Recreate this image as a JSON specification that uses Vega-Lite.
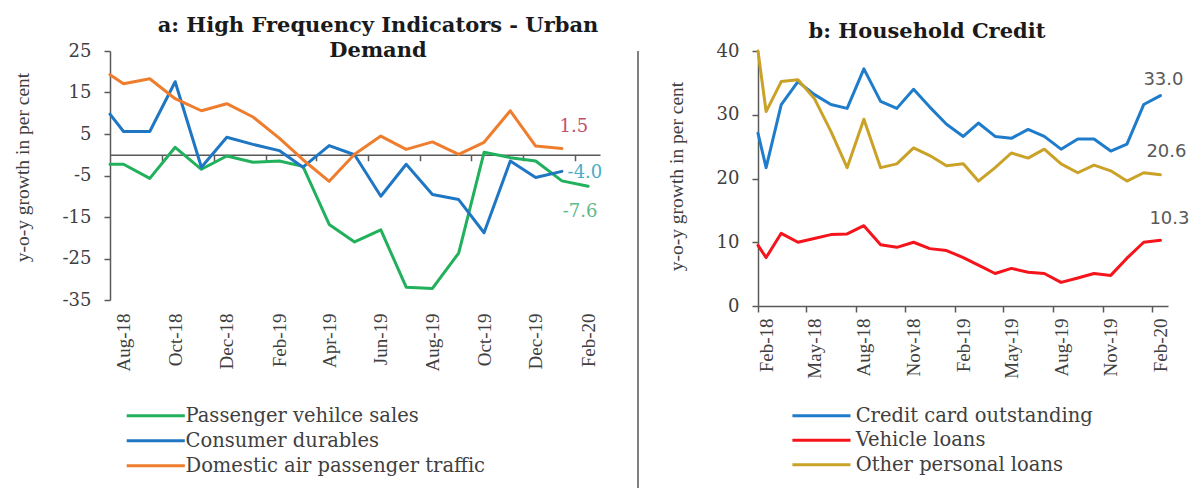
{
  "$schema": "https://vega.github.io/schema/vega-lite/v6.json",
  "background": "white",
  "autosize": {"type": "none"},
  "padding": {"left": 110, "top": 51, "right": 1091, "bottom": 437},
  "bounds": "flush",
  "spacing": 38,
  "config": {
    "view": {"stroke": null},
    "font": "DejaVu Serif",
    "axis": {"grid": false}
  },
  "resolve": {"scale": {"color": "independent"}, "legend": {"color": "independent"}},
  "datasets": {
    "urban": [
      {"date": "2018-07-16", "series": "Passenger vehilce sales", "value": -2.3},
      {"date": "2018-08-01", "series": "Passenger vehilce sales", "value": -2.3},
      {"date": "2018-09-01", "series": "Passenger vehilce sales", "value": -5.7},
      {"date": "2018-10-01", "series": "Passenger vehilce sales", "value": 1.8},
      {"date": "2018-11-01", "series": "Passenger vehilce sales", "value": -3.5},
      {"date": "2018-12-01", "series": "Passenger vehilce sales", "value": -0.3},
      {"date": "2019-01-01", "series": "Passenger vehilce sales", "value": -1.8},
      {"date": "2019-02-01", "series": "Passenger vehilce sales", "value": -1.5},
      {"date": "2019-03-01", "series": "Passenger vehilce sales", "value": -2.8},
      {"date": "2019-04-01", "series": "Passenger vehilce sales", "value": -16.8},
      {"date": "2019-05-01", "series": "Passenger vehilce sales", "value": -21.0},
      {"date": "2019-06-01", "series": "Passenger vehilce sales", "value": -18.1},
      {"date": "2019-07-01", "series": "Passenger vehilce sales", "value": -31.9},
      {"date": "2019-08-01", "series": "Passenger vehilce sales", "value": -32.2},
      {"date": "2019-09-01", "series": "Passenger vehilce sales", "value": -23.7},
      {"date": "2019-10-01", "series": "Passenger vehilce sales", "value": 0.6},
      {"date": "2019-11-01", "series": "Passenger vehilce sales", "value": -0.7},
      {"date": "2019-12-01", "series": "Passenger vehilce sales", "value": -1.5},
      {"date": "2020-01-01", "series": "Passenger vehilce sales", "value": -6.3},
      {"date": "2020-02-01", "series": "Passenger vehilce sales", "value": -7.6},
      {"date": "2018-07-16", "series": "Consumer durables", "value": 9.8},
      {"date": "2018-08-01", "series": "Consumer durables", "value": 5.6},
      {"date": "2018-09-01", "series": "Consumer durables", "value": 5.6},
      {"date": "2018-10-01", "series": "Consumer durables", "value": 17.6},
      {"date": "2018-11-01", "series": "Consumer durables", "value": -3.0},
      {"date": "2018-12-01", "series": "Consumer durables", "value": 4.2},
      {"date": "2019-01-01", "series": "Consumer durables", "value": 2.5},
      {"date": "2019-02-01", "series": "Consumer durables", "value": 1.0},
      {"date": "2019-03-01", "series": "Consumer durables", "value": -3.0},
      {"date": "2019-04-01", "series": "Consumer durables", "value": 2.2},
      {"date": "2019-05-01", "series": "Consumer durables", "value": 0.0},
      {"date": "2019-06-01", "series": "Consumer durables", "value": -10.0},
      {"date": "2019-07-01", "series": "Consumer durables", "value": -2.3},
      {"date": "2019-08-01", "series": "Consumer durables", "value": -9.6},
      {"date": "2019-09-01", "series": "Consumer durables", "value": -10.8},
      {"date": "2019-10-01", "series": "Consumer durables", "value": -18.8},
      {"date": "2019-11-01", "series": "Consumer durables", "value": -1.5},
      {"date": "2019-12-01", "series": "Consumer durables", "value": -5.5},
      {"date": "2020-01-01", "series": "Consumer durables", "value": -4.0},
      {"date": "2018-07-16", "series": "Domestic air passenger traffic", "value": 19.3},
      {"date": "2018-08-01", "series": "Domestic air passenger traffic", "value": 17.1},
      {"date": "2018-09-01", "series": "Domestic air passenger traffic", "value": 18.3},
      {"date": "2018-10-01", "series": "Domestic air passenger traffic", "value": 13.5},
      {"date": "2018-11-01", "series": "Domestic air passenger traffic", "value": 10.6},
      {"date": "2018-12-01", "series": "Domestic air passenger traffic", "value": 12.3},
      {"date": "2019-01-01", "series": "Domestic air passenger traffic", "value": 9.1},
      {"date": "2019-02-01", "series": "Domestic air passenger traffic", "value": 4.0},
      {"date": "2019-03-01", "series": "Domestic air passenger traffic", "value": -1.2},
      {"date": "2019-04-01", "series": "Domestic air passenger traffic", "value": -6.4},
      {"date": "2019-05-01", "series": "Domestic air passenger traffic", "value": 0.1},
      {"date": "2019-06-01", "series": "Domestic air passenger traffic", "value": 4.5},
      {"date": "2019-07-01", "series": "Domestic air passenger traffic", "value": 1.3},
      {"date": "2019-08-01", "series": "Domestic air passenger traffic", "value": 3.1},
      {"date": "2019-09-01", "series": "Domestic air passenger traffic", "value": 0.1},
      {"date": "2019-10-01", "series": "Domestic air passenger traffic", "value": 3.0},
      {"date": "2019-11-01", "series": "Domestic air passenger traffic", "value": 10.6},
      {"date": "2019-12-01", "series": "Domestic air passenger traffic", "value": 2.1},
      {"date": "2020-01-01", "series": "Domestic air passenger traffic", "value": 1.5}
    ],
    "urbanLabels": [
      {"date": "2020-01-01", "series": "Domestic air passenger traffic", "value": 1.5, "label": "1.5"},
      {"date": "2020-01-01", "series": "Consumer durables", "value": -4.0, "label": "-4.0"},
      {"date": "2020-02-01", "series": "Passenger vehilce sales", "value": -7.6, "label": "-7.6"}
    ],
    "credit": [
      {"date": "2018-01-17", "series": "Credit card outstanding", "value": 27.1},
      {"date": "2018-02-01", "series": "Credit card outstanding", "value": 21.7},
      {"date": "2018-03-01", "series": "Credit card outstanding", "value": 31.6},
      {"date": "2018-04-01", "series": "Credit card outstanding", "value": 35.2},
      {"date": "2018-05-01", "series": "Credit card outstanding", "value": 33.2},
      {"date": "2018-06-01", "series": "Credit card outstanding", "value": 31.6},
      {"date": "2018-07-01", "series": "Credit card outstanding", "value": 31.0},
      {"date": "2018-08-01", "series": "Credit card outstanding", "value": 37.2},
      {"date": "2018-09-01", "series": "Credit card outstanding", "value": 32.1},
      {"date": "2018-10-01", "series": "Credit card outstanding", "value": 31.0},
      {"date": "2018-11-01", "series": "Credit card outstanding", "value": 34.0},
      {"date": "2018-12-01", "series": "Credit card outstanding", "value": 31.2},
      {"date": "2019-01-01", "series": "Credit card outstanding", "value": 28.5},
      {"date": "2019-02-01", "series": "Credit card outstanding", "value": 26.6},
      {"date": "2019-03-01", "series": "Credit card outstanding", "value": 28.7},
      {"date": "2019-04-01", "series": "Credit card outstanding", "value": 26.6},
      {"date": "2019-05-01", "series": "Credit card outstanding", "value": 26.3},
      {"date": "2019-06-01", "series": "Credit card outstanding", "value": 27.7},
      {"date": "2019-07-01", "series": "Credit card outstanding", "value": 26.6},
      {"date": "2019-08-01", "series": "Credit card outstanding", "value": 24.6},
      {"date": "2019-09-01", "series": "Credit card outstanding", "value": 26.2},
      {"date": "2019-10-01", "series": "Credit card outstanding", "value": 26.2},
      {"date": "2019-11-01", "series": "Credit card outstanding", "value": 24.3},
      {"date": "2019-12-01", "series": "Credit card outstanding", "value": 25.4},
      {"date": "2020-01-01", "series": "Credit card outstanding", "value": 31.6},
      {"date": "2020-02-01", "series": "Credit card outstanding", "value": 33.0},
      {"date": "2018-01-17", "series": "Vehicle loans", "value": 9.5},
      {"date": "2018-02-01", "series": "Vehicle loans", "value": 7.6},
      {"date": "2018-03-01", "series": "Vehicle loans", "value": 11.4},
      {"date": "2018-04-01", "series": "Vehicle loans", "value": 10.0},
      {"date": "2018-05-01", "series": "Vehicle loans", "value": 10.6},
      {"date": "2018-06-01", "series": "Vehicle loans", "value": 11.2},
      {"date": "2018-07-01", "series": "Vehicle loans", "value": 11.3},
      {"date": "2018-08-01", "series": "Vehicle loans", "value": 12.6},
      {"date": "2018-09-01", "series": "Vehicle loans", "value": 9.6},
      {"date": "2018-10-01", "series": "Vehicle loans", "value": 9.2},
      {"date": "2018-11-01", "series": "Vehicle loans", "value": 10.0},
      {"date": "2018-12-01", "series": "Vehicle loans", "value": 9.0},
      {"date": "2019-01-01", "series": "Vehicle loans", "value": 8.7},
      {"date": "2019-02-01", "series": "Vehicle loans", "value": 7.6},
      {"date": "2019-03-01", "series": "Vehicle loans", "value": 6.4},
      {"date": "2019-04-01", "series": "Vehicle loans", "value": 5.1},
      {"date": "2019-05-01", "series": "Vehicle loans", "value": 5.9},
      {"date": "2019-06-01", "series": "Vehicle loans", "value": 5.3},
      {"date": "2019-07-01", "series": "Vehicle loans", "value": 5.1},
      {"date": "2019-08-01", "series": "Vehicle loans", "value": 3.7},
      {"date": "2019-09-01", "series": "Vehicle loans", "value": 4.4},
      {"date": "2019-10-01", "series": "Vehicle loans", "value": 5.1},
      {"date": "2019-11-01", "series": "Vehicle loans", "value": 4.8},
      {"date": "2019-12-01", "series": "Vehicle loans", "value": 7.5},
      {"date": "2020-01-01", "series": "Vehicle loans", "value": 10.0},
      {"date": "2020-02-01", "series": "Vehicle loans", "value": 10.3},
      {"date": "2018-01-17", "series": "Other personal loans", "value": 40.0},
      {"date": "2018-02-01", "series": "Other personal loans", "value": 30.5},
      {"date": "2018-03-01", "series": "Other personal loans", "value": 35.2},
      {"date": "2018-04-01", "series": "Other personal loans", "value": 35.5},
      {"date": "2018-05-01", "series": "Other personal loans", "value": 32.6},
      {"date": "2018-06-01", "series": "Other personal loans", "value": 27.4},
      {"date": "2018-07-01", "series": "Other personal loans", "value": 21.7},
      {"date": "2018-08-01", "series": "Other personal loans", "value": 29.3},
      {"date": "2018-09-01", "series": "Other personal loans", "value": 21.7},
      {"date": "2018-10-01", "series": "Other personal loans", "value": 22.3},
      {"date": "2018-11-01", "series": "Other personal loans", "value": 24.8},
      {"date": "2018-12-01", "series": "Other personal loans", "value": 23.6},
      {"date": "2019-01-01", "series": "Other personal loans", "value": 22.0},
      {"date": "2019-02-01", "series": "Other personal loans", "value": 22.3},
      {"date": "2019-03-01", "series": "Other personal loans", "value": 19.6},
      {"date": "2019-04-01", "series": "Other personal loans", "value": 21.7},
      {"date": "2019-05-01", "series": "Other personal loans", "value": 24.0},
      {"date": "2019-06-01", "series": "Other personal loans", "value": 23.2},
      {"date": "2019-07-01", "series": "Other personal loans", "value": 24.6},
      {"date": "2019-08-01", "series": "Other personal loans", "value": 22.3},
      {"date": "2019-09-01", "series": "Other personal loans", "value": 20.9},
      {"date": "2019-10-01", "series": "Other personal loans", "value": 22.1},
      {"date": "2019-11-01", "series": "Other personal loans", "value": 21.2},
      {"date": "2019-12-01", "series": "Other personal loans", "value": 19.6},
      {"date": "2020-01-01", "series": "Other personal loans", "value": 20.9},
      {"date": "2020-02-01", "series": "Other personal loans", "value": 20.6}
    ],
    "creditLabels": [
      {"date": "2020-02-01", "series": "Credit card outstanding", "value": 33.0, "label": "33.0"},
      {"date": "2020-02-01", "series": "Other personal loans", "value": 20.6, "label": "20.6"},
      {"date": "2020-02-01", "series": "Vehicle loans", "value": 10.3, "label": "10.3"}
    ],
    "separator": [{"pos": 0}]
  },
  "hconcat": [
    {
      "width": 490,
      "height": 249,
      "title": {
        "text": ["a: High Frequency Indicators - Urban", "Demand"],
        "font": "DejaVu Serif",
        "fontSize": 21,
        "fontWeight": "bold",
        "color": "#1a1a1a",
        "anchor": "middle",
        "frame": "group",
        "dx": 23,
        "dy": 23,
        "offset": 4,
        "lineHeight": 25
      },
      "layer": [
        {
          "data": {"name": "urban"},
          "mark": {"type": "line", "strokeWidth": 3, "strokeJoin": "round", "strokeCap": "round"},
          "encoding": {
            "x": {
              "field": "date", "type": "temporal",
              "scale": {"type": "utc", "domain": [{"year": 2018, "month": 7, "date": 16, "utc": true}, {"year": 2020, "month": 2, "date": 15, "utc": true}]},
              "axis": {
                "orient": "bottom",
                "values": [
                  {"year": 2018, "month": 8, "date": 1, "utc": true},
                  {"year": 2018, "month": 10, "date": 1, "utc": true},
                  {"year": 2018, "month": 12, "date": 1, "utc": true},
                  {"year": 2019, "month": 2, "date": 1, "utc": true},
                  {"year": 2019, "month": 4, "date": 1, "utc": true},
                  {"year": 2019, "month": 6, "date": 1, "utc": true},
                  {"year": 2019, "month": 8, "date": 1, "utc": true},
                  {"year": 2019, "month": 10, "date": 1, "utc": true},
                  {"year": 2019, "month": 12, "date": 1, "utc": true},
                  {"year": 2020, "month": 2, "date": 1, "utc": true}
                ],
                "labelExpr": "utcFormat(datum.value, '%b-%y')",
                "labelAngle": -90, "labelFont": "Liberation Serif", "labelFontSize": 19, "labelColor": "#404040",
                "labelPadding": 13, "ticks": false, "tickSize": 0, "domain": false,
                "labelOverlap": false, "labelFlush": false, "labelBound": false, "title": null
              }
            },
            "y": {
              "field": "value", "type": "quantitative",
              "scale": {"domain": [-35, 25], "nice": false, "zero": false},
              "axis": {
                "values": [-35, -25, -15, -5, 5, 15, 25],
                "labelExpr": "'' + datum.value",
                "domainColor": "#595959", "domainWidth": 1.5,
                "tickColor": "#595959", "tickSize": 6, "tickWidth": 1.5,
                "labelFont": "DejaVu Serif", "labelFontSize": 18, "labelColor": "#404040", "labelPadding": 13,
                "labelFlush": false,
                "title": "y-o-y growth in per cent",
                "titleFont": "Liberation Serif", "titleFontSize": 19.5, "titleFontWeight": "normal", "titleColor": "#404040",
                "titleX": -78, "titleY": 116
              }
            },
            "color": {
              "field": "series", "type": "nominal",
              "scale": {
                "domain": ["Passenger vehilce sales", "Consumer durables", "Domestic air passenger traffic"],
                "range": ["#21B05C", "#1F77C4", "#EE7D2E"]
              },
              "legend": {
                "orient": "none", "legendX": 36, "legendY": 355, "title": null,
                "symbolType": "M-5,0H5", "symbolSize": 135, "symbolStrokeWidth": 3,
                "labelFont": "DejaVu Serif", "labelFontSize": 19.5, "labelColor": "#404040",
                "labelOffset": 20, "rowPadding": 4, "padding": 0, "labelLimit": 400
              }
            }
          }
        },
        {
          "data": {"name": "urbanLabels"},
          "transform": [{"filter": "datum.label == '1.5'"}],
          "mark": {"type": "text", "font": "DejaVu Serif", "fontSize": 18, "color": "#C0506D", "dx": 12, "dy": -21.5, "align": "center", "baseline": "middle"},
          "encoding": {
            "x": {
              "field": "date", "type": "temporal",
              "axis": {
                "orient": "bottom",
                "offset": -145.25,
                "values": [
                  {"year": 2018, "month": 10, "date": 1, "utc": true},
                  {"year": 2018, "month": 12, "date": 1, "utc": true},
                  {"year": 2019, "month": 2, "date": 1, "utc": true},
                  {"year": 2019, "month": 4, "date": 1, "utc": true},
                  {"year": 2019, "month": 6, "date": 1, "utc": true},
                  {"year": 2019, "month": 8, "date": 1, "utc": true},
                  {"year": 2019, "month": 10, "date": 1, "utc": true},
                  {"year": 2019, "month": 12, "date": 1, "utc": true},
                  {"year": 2020, "month": 2, "date": 1, "utc": true}
                ],
                "tickOffset": -12.9,
                "labels": false, "ticks": true, "tickSize": 6, "tickColor": "#595959", "tickWidth": 1.5,
                "domain": true, "domainColor": "#595959", "domainWidth": 1.5, "title": null
              }
            },
            "y": {"field": "value", "type": "quantitative"},
            "text": {"field": "label"}
          }
        },
        {
          "data": {"name": "urbanLabels"},
          "transform": [{"filter": "datum.label == '-4.0'"}],
          "mark": {"type": "text", "font": "DejaVu Serif", "fontSize": 18, "color": "#4BACC6", "dx": 23, "dy": 2, "align": "center", "baseline": "middle"},
          "encoding": {
            "x": {"field": "date", "type": "temporal", "axis": null},
            "y": {"field": "value", "type": "quantitative"},
            "text": {"field": "label"}
          }
        },
        {
          "data": {"name": "urbanLabels"},
          "transform": [{"filter": "datum.label == '-7.6'"}],
          "mark": {"type": "text", "font": "DejaVu Serif", "fontSize": 18, "color": "#5DB88A", "dx": -8, "dy": 26, "align": "center", "baseline": "middle"},
          "encoding": {
            "x": {"field": "date", "type": "temporal", "axis": null},
            "y": {"field": "value", "type": "quantitative"},
            "text": {"field": "label"}
          }
        }
      ],
      "resolve": {"axis": {"x": "independent"}}
    },
    {
      "width": 82,
      "height": 437,
      "data": {"name": "separator"},
      "mark": {"type": "rule", "color": "#7F7F7F", "strokeWidth": 2},
      "encoding": {
        "x": {"field": "pos", "type": "quantitative", "scale": {"domain": [0, 1]}, "axis": null}
      }
    },
    {
      "width": 410,
      "height": 255,
      "title": {
        "text": "b: Household Credit",
        "font": "DejaVu Serif",
        "fontSize": 21,
        "fontWeight": "bold",
        "color": "#1a1a1a",
        "anchor": "middle",
        "frame": "group",
        "dx": -36,
        "dy": 4,
        "offset": 4
      },
      "layer": [
        {
          "data": {"name": "credit"},
          "mark": {"type": "line", "strokeWidth": 3, "strokeJoin": "round", "strokeCap": "round"},
          "encoding": {
            "x": {
              "field": "date", "type": "temporal",
              "scale": {"type": "utc", "domain": [{"year": 2018, "month": 1, "date": 17, "utc": true}, {"year": 2020, "month": 2, "date": 15, "utc": true}]},
              "axis": {
                "orient": "bottom",
                "values": [
                  {"year": 2018, "month": 2, "date": 1, "utc": true},
                  {"year": 2018, "month": 5, "date": 1, "utc": true},
                  {"year": 2018, "month": 8, "date": 1, "utc": true},
                  {"year": 2018, "month": 11, "date": 1, "utc": true},
                  {"year": 2019, "month": 2, "date": 1, "utc": true},
                  {"year": 2019, "month": 5, "date": 1, "utc": true},
                  {"year": 2019, "month": 8, "date": 1, "utc": true},
                  {"year": 2019, "month": 11, "date": 1, "utc": true},
                  {"year": 2020, "month": 2, "date": 1, "utc": true}
                ],
                "labelExpr": "utcFormat(datum.value, '%b-%y')",
                "tickOffset": -8.2, "labelOffset": 8.2,
                "labelAngle": -90, "labelFont": "Liberation Serif", "labelFontSize": 19, "labelColor": "#404040",
                "labelPadding": 6, "tickSize": 6, "tickColor": "#595959", "tickWidth": 1.5,
                "domainColor": "#595959", "domainWidth": 1.5,
                "labelOverlap": false, "labelFlush": false, "labelBound": false, "title": null
              }
            },
            "y": {
              "field": "value", "type": "quantitative",
              "scale": {"domain": [0, 40], "nice": false},
              "axis": {
                "values": [0, 10, 20, 30, 40],
                "domainColor": "#595959", "domainWidth": 1.5,
                "tickColor": "#595959", "tickSize": 6, "tickWidth": 1.5,
                "labelFont": "DejaVu Serif", "labelFontSize": 18, "labelColor": "#404040", "labelPadding": 13,
                "labelFlush": false,
                "title": "y-o-y growth in per cent",
                "titleFont": "Liberation Serif", "titleFontSize": 19.5, "titleFontWeight": "normal", "titleColor": "#404040",
                "titleX": -72, "titleY": 125
              }
            },
            "color": {
              "field": "series", "type": "nominal",
              "scale": {
                "domain": ["Credit card outstanding", "Vehicle loans", "Other personal loans"],
                "range": ["#1F7CCB", "#F5141B", "#C9A227"]
              },
              "legend": {
                "orient": "none", "legendX": 53.7, "legendY": 355, "title": null,
                "symbolType": "M-5,0H5", "symbolSize": 135, "symbolStrokeWidth": 3,
                "labelFont": "DejaVu Serif", "labelFontSize": 19.5, "labelColor": "#404040",
                "labelOffset": 24.5, "rowPadding": 3.5, "padding": 0, "labelLimit": 400
              }
            }
          }
        },
        {
          "data": {"name": "creditLabels"},
          "transform": [{"filter": "datum.label == '33.0'"}],
          "mark": {"type": "text", "font": "DejaVu Sans", "fontSize": 18, "color": "#595959", "dx": 3, "dy": -16, "align": "center", "baseline": "middle"},
          "encoding": {
            "x": {"field": "date", "type": "temporal"},
            "y": {"field": "value", "type": "quantitative"},
            "text": {"field": "label"}
          }
        },
        {
          "data": {"name": "creditLabels"},
          "transform": [{"filter": "datum.label == '20.6'"}],
          "mark": {"type": "text", "font": "DejaVu Sans", "fontSize": 18, "color": "#595959", "dx": 6, "dy": -23, "align": "center", "baseline": "middle"},
          "encoding": {
            "x": {"field": "date", "type": "temporal"},
            "y": {"field": "value", "type": "quantitative"},
            "text": {"field": "label"}
          }
        },
        {
          "data": {"name": "creditLabels"},
          "transform": [{"filter": "datum.label == '10.3'"}],
          "mark": {"type": "text", "font": "DejaVu Sans", "fontSize": 18, "color": "#595959", "dx": 9, "dy": -21, "align": "center", "baseline": "middle"},
          "encoding": {
            "x": {"field": "date", "type": "temporal"},
            "y": {"field": "value", "type": "quantitative"},
            "text": {"field": "label"}
          }
        }
      ]
    }
  ]
}
